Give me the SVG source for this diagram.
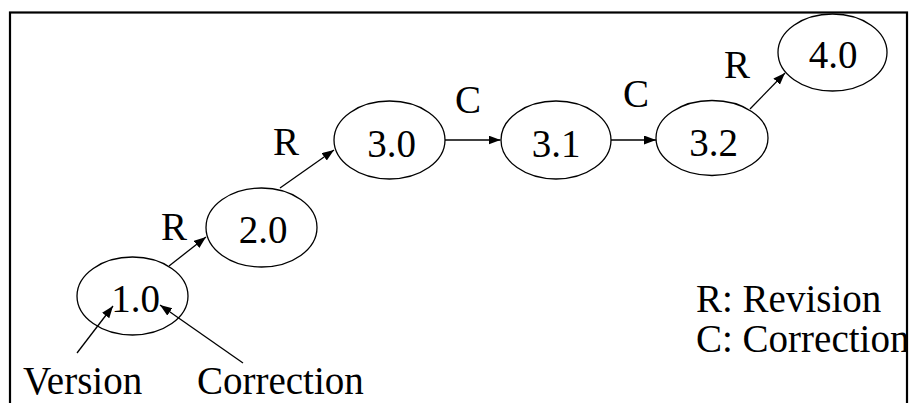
<svg xmlns="http://www.w3.org/2000/svg" width="910" height="403" viewBox="0 0 910 403">
<style>
text{font-family:"Liberation Serif","Times New Roman",serif;font-size:39px;fill:#000}
.n{text-anchor:middle}
ellipse{fill:#fff;stroke:#000;stroke-width:1.3}
.c line{stroke:#000;stroke-width:1.3}
</style>
<defs>
<marker id="a" markerUnits="userSpaceOnUse" markerWidth="13" markerHeight="10" refX="12" refY="4.5" orient="auto">
<path d="M0,0 L12,4.5 L0,9 z" fill="#000"/>
</marker>
<clipPath id="clip"><rect x="10" y="12" width="896" height="391"/></clipPath>
</defs>
<rect width="910" height="403" fill="#fff"/>
<g clip-path="url(#clip)">
<g id="n10"><ellipse cx="132.5" cy="296" rx="55.5" ry="39"/><text class="n" x="135.5" y="312">1.0</text></g>
<g id="n20"><ellipse cx="261.5" cy="227.5" rx="55.5" ry="39.5"/><text class="n" x="263" y="243">2.0</text></g>
<g id="n30"><ellipse cx="389.5" cy="140" rx="55.5" ry="39"/><text class="n" x="391.5" y="157">3.0</text></g>
<g id="n31"><ellipse cx="556" cy="140" rx="55" ry="39"/><text class="n" x="556" y="157">3.1</text></g>
<g id="n32"><ellipse cx="712" cy="138" rx="56" ry="37.5"/><text class="n" x="713.5" y="156">3.2</text></g>
<g id="n40"><ellipse cx="832.5" cy="52.5" rx="54.5" ry="38.5"/><text class="n" x="833" y="68">4.0</text></g>
<g class="c" id="connectors">
<line x1="169" y1="266" x2="206" y2="237" marker-end="url(#a)"/>
<line x1="280" y1="188" x2="334" y2="150" marker-end="url(#a)"/>
<line x1="445" y1="140" x2="500.5" y2="140" marker-end="url(#a)"/>
<line x1="611" y1="140" x2="656" y2="140" marker-end="url(#a)"/>
<line x1="750" y1="109" x2="785" y2="73" marker-end="url(#a)"/>
<line x1="77" y1="353" x2="113" y2="306" marker-end="url(#a)"/>
<line x1="243" y1="363" x2="160" y2="305" marker-end="url(#a)"/>
</g>
<g id="labels">
<text x="161" y="240">R</text>
<text x="273" y="155">R</text>
<text x="455" y="113">C</text>
<text x="623" y="107">C</text>
<text x="724" y="78">R</text>
<text x="23" y="394">Version</text>
<text x="197" y="394">Correction</text>
<text x="696" y="312">R: Revision</text>
<text x="696" y="352">C: Correction</text>
</g>
</g>
<rect x="10" y="12.5" width="897" height="400" fill="none" stroke="#000" stroke-width="2.2"/>
</svg>
